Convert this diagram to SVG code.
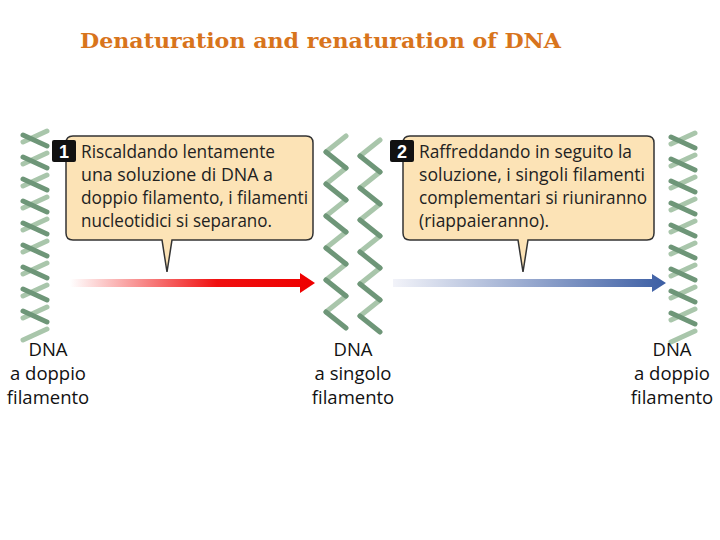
<svg xmlns="http://www.w3.org/2000/svg" width="720" height="540" viewBox="0 0 720 540">
<style>
.t{font-family:"Open Sans","Noto Sans",sans-serif;font-size:18.5px;fill:#222}
.lab{font-family:"Open Sans","Noto Sans",sans-serif;font-size:18.5px;fill:#111;text-anchor:middle}
.box{fill:#fce3b6;stroke:#333;stroke-width:1.5}
.lt{stroke:#a9c6ab;stroke-width:5;fill:none;stroke-linecap:round}
.dk{stroke:#6e9678;stroke-width:5;fill:none;stroke-linecap:round}
.badge{fill:#111}
.bt{font-family:"Liberation Sans",sans-serif;font-weight:bold;font-size:18px;fill:#fff;text-anchor:middle}
</style>
<defs>
<linearGradient id="red" x1="0" x2="1"><stop offset="0" stop-color="#fff"/><stop offset="0.6" stop-color="#f01010"/><stop offset="1" stop-color="#ee0000"/></linearGradient>
<linearGradient id="blue" x1="0" x2="1"><stop offset="0" stop-color="#f2f3f9"/><stop offset="1" stop-color="#3c5ea4"/></linearGradient>
<path id="dbl" d="M0,0 l24,11 M0,22 l24,11 M0,44 l24,11 M0,66 l24,11 M0,88 l24,11 M0,110 l24,11 M0,132 l24,11 M0,154 l24,11 M0,176 l24,11"/>
<path id="dbl2" d="M24,-4 l-24,11 M24,18 l-24,11 M24,40 l-24,11 M24,62 l-24,11 M24,84 l-24,11 M24,106 l-24,11 M24,128 l-24,11 M24,150 l-24,11 M24,172 l-24,11 M24,194 l-24,11"/>
<path id="sgL" d="M20,0 L0,16 M20,32 L0,48 M20,64 L0,80 M20,96 L0,112 M20,128 L0,144 M20,160 L0,176"/>
<path id="sgD" d="M0,16 L20,32 M0,48 L20,64 M0,80 L20,96 M0,112 L20,128 M0,144 L20,160 M0,176 L20,192"/>
</defs>
<text x="80" y="48" font-family="DejaVu Serif,serif" font-weight="bold" font-size="20" fill="#d8741c" textLength="481" lengthAdjust="spacingAndGlyphs">Denaturation and renaturation of DNA</text>
<g id="helix-left" transform="translate(23,135)"><use href="#dbl2" class="lt"/><use href="#dbl" class="dk"/></g>
<g id="strand-mid1" transform="translate(326,136)"><use href="#sgL" class="lt"/><use href="#sgD" class="dk"/></g>
<g id="strand-mid2" transform="translate(360,140)"><use href="#sgL" class="lt"/><use href="#sgD" class="dk"/></g>
<g id="helix-right" transform="translate(671,137)"><use href="#dbl2" class="lt"/><use href="#dbl" class="dk"/></g>
<g id="connectors">
<path d="M70,279 H300 V273 L315,283 L300,293 V287 H70 Z" fill="url(#red)"/>
<path d="M393,279 H652 V274 L666,283 L652,292 V287 H393 Z" fill="url(#blue)"/>
</g>
<g id="step1">
<path class="box" d="M73,136 H306 Q313,136 313,143 V233 Q313,240 306,240 H172 L167,272 L162,240 H73 Q66,240 66,233 V143 Q66,136 73,136 Z"/>
<rect class="badge" x="52" y="140" width="24" height="22" rx="2"/><text class="bt" x="64" y="158">1</text>
<text class="t" x="81" y="158" textLength="194" lengthAdjust="spacingAndGlyphs">Riscaldando lentamente</text>
<text class="t" x="81" y="181" textLength="192" lengthAdjust="spacingAndGlyphs">una soluzione di DNA a</text>
<text class="t" x="81" y="204" textLength="227" lengthAdjust="spacingAndGlyphs">doppio filamento, i filamenti</text>
<text class="t" x="81" y="227" textLength="191" lengthAdjust="spacingAndGlyphs">nucleotidici si separano.</text>
</g>
<g id="step2">
<path class="box" d="M410,136 H647 Q654,136 654,143 V233 Q654,240 647,240 H528 L523,272 L518,240 H410 Q403,240 403,233 V143 Q403,136 410,136 Z"/>
<rect class="badge" x="390" y="140" width="24" height="22" rx="2"/><text class="bt" x="402" y="158">2</text>
<text class="t" x="419" y="158" textLength="213" lengthAdjust="spacingAndGlyphs">Raffreddando in seguito la</text>
<text class="t" x="419" y="181" textLength="226" lengthAdjust="spacingAndGlyphs">soluzione, i singoli filamenti</text>
<text class="t" x="419" y="204" textLength="228" lengthAdjust="spacingAndGlyphs">complementari si riuniranno</text>
<text class="t" x="419" y="227" textLength="130" lengthAdjust="spacingAndGlyphs">(riappaieranno).</text>
</g>
<g id="label-left"><text class="lab" x="48" y="356">DNA</text><text class="lab" x="48" y="380">a doppio</text><text class="lab" x="48" y="404">filamento</text></g>
<g id="label-mid"><text class="lab" x="353" y="356">DNA</text><text class="lab" x="353" y="380">a singolo</text><text class="lab" x="353" y="404">filamento</text></g>
<g id="label-right"><text class="lab" x="672" y="356">DNA</text><text class="lab" x="672" y="380">a doppio</text><text class="lab" x="672" y="404">filamento</text></g>
</svg>
